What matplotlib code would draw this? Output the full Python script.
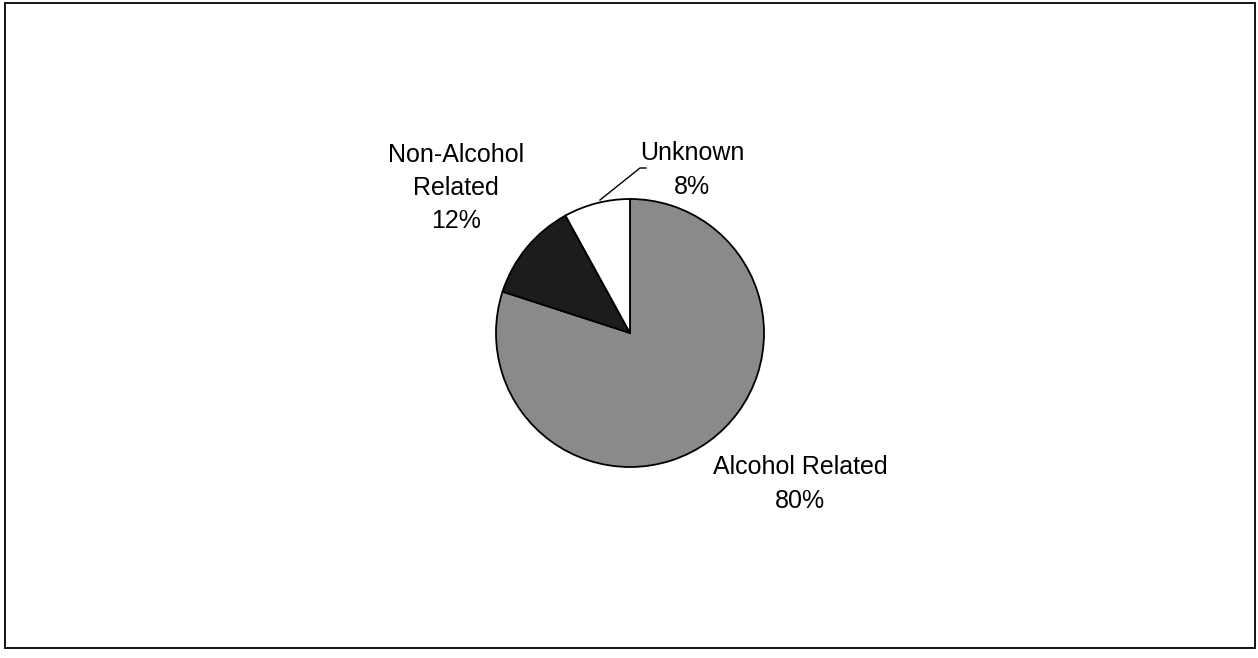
import matplotlib
matplotlib.use("Agg")
import matplotlib.pyplot as plt
from matplotlib.patches import Rectangle

categories = ["Alcohol Related", "Non-Alcohol\nRelated", "Unknown"]
values = [80, 12, 8]
colors = ["#8a8a8a", "#1c1c1c", "#ffffff"]

plt.rcParams['font.family'] = ['Liberation Sans', 'DejaVu Sans']

W, H = 1258, 658
fig = plt.figure(figsize=(W / 100, H / 100), dpi=100)
ax = fig.add_axes([0, 0, 1, 1])

cx, cy, r = 630, H - 333, 134
wedges, _ = ax.pie(values, colors=colors, startangle=90, counterclock=False,
                   center=(cx, cy), radius=r,
                   wedgeprops=dict(edgecolor="black", linewidth=1.3))
ax.set_xlim(0, W)
ax.set_ylim(0, H)
ax.set_aspect('auto')
ax.axis('off')

fs = 18
ls = 1.5
labels = [f"{c}\n{v}%" for c, v in zip(categories, values)]
ax.text(800, H - 484, labels[0], ha='center', va='center', fontsize=fs, linespacing=ls)
ax.text(456, H - 188, labels[1], ha='center', va='center', fontsize=fs, linespacing=ls)
ax.text(692, H - 170, labels[2], ha='center', va='center', fontsize=fs, linespacing=ls)
ax.plot([600, 640, 646], [H - 200, H - 168, H - 168], color='black', lw=1.0)

fig.patches.append(Rectangle((5 / W, 10 / H), 1250 / W, 645 / H, transform=fig.transFigure,
                             fill=False, edgecolor='black', linewidth=1.3))

fig.savefig("out.png", dpi=100)
